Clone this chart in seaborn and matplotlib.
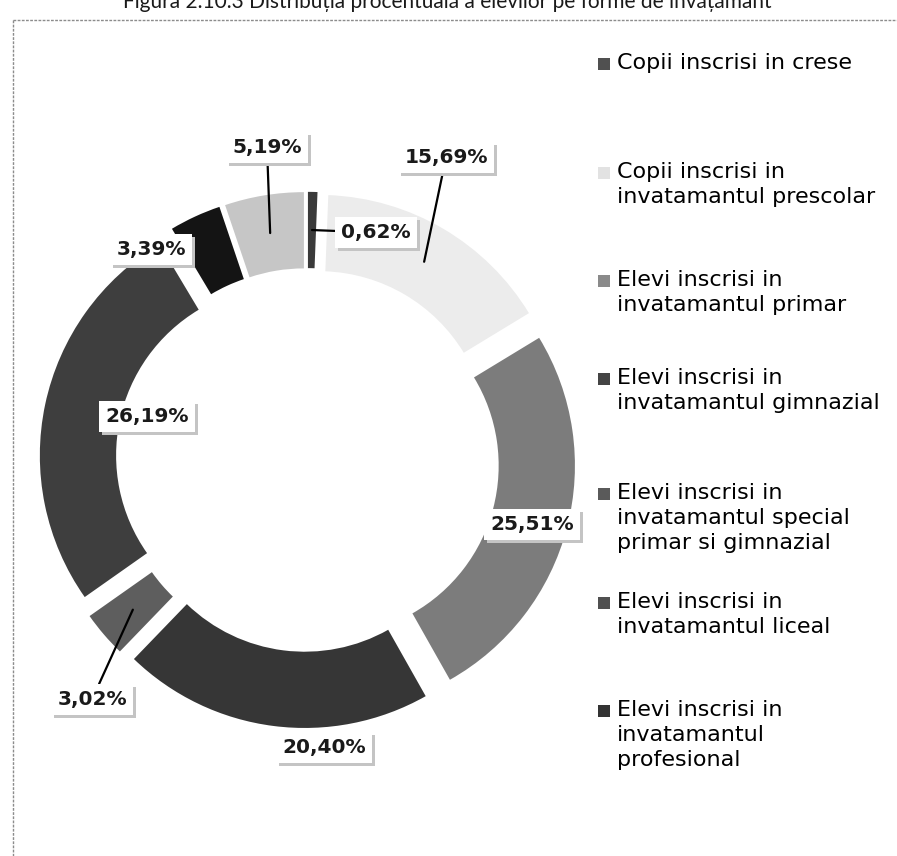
import numpy as np
import matplotlib
matplotlib.use("Agg")
import matplotlib.pyplot as plt
import matplotlib.patheffects as pe
import seaborn as sns

# data (clockwise from 12 o'clock)
categorii = [
    "Copii inscrisi in crese",
    "Copii inscrisi in\ninvatamantul prescolar",
    "Elevi inscrisi in\ninvatamantul primar",
    "Elevi inscrisi in\ninvatamantul gimnazial",
    "Elevi inscrisi in\ninvatamantul special\nprimar si gimnazial",
    "Elevi inscrisi in\ninvatamantul liceal",
    "Elevi inscrisi in\ninvatamantul\nprofesional",
    "Elevi inscrisi in\ninvatamantul postliceal",
]
procente = [0.62, 15.69, 25.51, 20.40, 3.02, 26.19, 3.39, 5.19]
culori = ["#3a3a3a", "#ececec", "#7c7c7c", "#363636",
          "#5e5e5e", "#3e3e3e", "#141414", "#c6c6c6"]
culori_legenda = ["#505050", "#e2e2e2", "#8a8a8a", "#444444",
                  "#5a5a5a", "#505050", "#333333"]
titlu = "Figura 2.10.3 Distribuția procentuală a elevilor pe forme de învățământ"

# layout (pixels of the 897x856 canvas)
W, H = 897, 856
CX, CY, R = 307.5, 460.0, 246.0
# label text position (x centre, baseline) and whether a leader line is drawn
pos_etichete = [(376, 238, True), (446, 163, True), (532, 530, False),
                (324, 753, False), (92, 705, True), (147, 422, False),
                (151, 255, False), (267, 153, True)]
y_legenda = [63, 172, 280, 378, 493, 602, 710]

sns.set_theme(style="white")
plt.rcParams["font.family"] = ["DejaVu Sans"]


def px(x, y):
    return (x - CX) / R, (CY - y) / R


fig = plt.figure(figsize=(W / 100, H / 100), dpi=100)
fig.patch.set_facecolor("white")
ax = fig.add_axes([0, 0, 1, 1])

wedges, _ = ax.pie(procente, colors=culori, startangle=90, counterclock=False,
                   explode=[0.09] * len(procente),
                   wedgeprops=dict(width=0.31, linewidth=0))
ax.set_xlim(px(0, 0)[0], px(W, 0)[0])
ax.set_ylim(px(0, H)[1], px(0, 0)[1])
ax.set_aspect("equal")
ax.axis("off")

umbra = [pe.SimplePatchShadow(offset=(2, -2), shadow_rgbFace="#c4c4c4", alpha=1),
         pe.Normal()]
for w, v, (lx, ly, linie) in zip(wedges, procente, pos_etichete):
    txt = f"{v:.2f}%".replace(".", ",")
    # point in the middle of the ring segment
    th = np.deg2rad((w.theta1 + w.theta2) / 2)
    cx, cy = w.center
    rm = w.r - w.width / 2
    xy = (cx + rm * np.cos(th), cy + rm * np.sin(th))
    arrow = dict(arrowstyle="-", color="black", lw=1.6, shrinkA=0, shrinkB=0) if linie else None
    t = ax.annotate(txt, xy=xy, xytext=px(lx, ly), ha="center", va="baseline",
                    fontsize=14.5, fontweight="bold", color="#1a1a1a",
                    bbox=dict(boxstyle="square,pad=0.3", fc="white", ec="none"),
                    arrowprops=arrow, zorder=5)
    t.get_bbox_patch().set_path_effects(umbra)

# legend (only the first seven entries are visible in the scan)
for nume, c, y in zip(categorii, culori_legenda, y_legenda):
    ax.scatter(*px(604, y + 1), marker="s", s=70, color=c, linewidths=0, zorder=6)
    ax.text(*px(617, y - 10), nume, ha="left", va="top", fontsize=16,
            color="black", linespacing=1.32, zorder=6)

# outer frame of the chart area and the clipped caption
fig.add_artist(plt.Line2D([13 / W, 13 / W], [1 - 20 / H, 0], color="#8c8c8c",
                          lw=1, ls=(0, (2, 1)), transform=fig.transFigure))
fig.add_artist(plt.Line2D([13 / W, 1], [1 - 20 / H, 1 - 20 / H], color="#8c8c8c",
                          lw=1, ls=(0, (2, 1)), transform=fig.transFigure))
fig.text(447 / W, 1 - 8 / H, titlu, ha="center", va="baseline", fontsize=15,
         family=["Lato", "DejaVu Sans"], color="#1a1a1a")

fig.savefig("out.png", dpi=100, facecolor="white")
